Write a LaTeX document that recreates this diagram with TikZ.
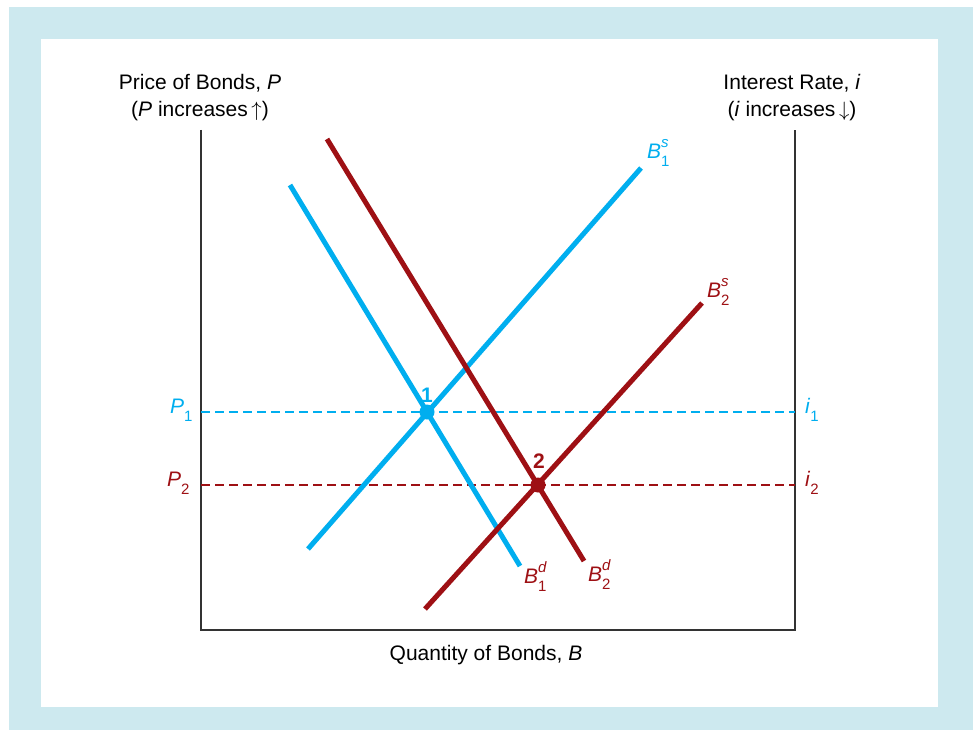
\documentclass[tikz,border=0pt]{standalone}
\usepackage{fontspec}
\setmainfont{Liberation Sans}
\definecolor{bgblue}{HTML}{CDE9EF}
\definecolor{cblue}{HTML}{00AEEF}
\definecolor{dred}{HTML}{9E1014}
\definecolor{axisgray}{HTML}{333333}
\newcommand\lblfont{\fontsize{21}{27}\selectfont}
\newcommand\smlfont{\fontsize{15}{18}\selectfont}
\newcommand\BSD[2]{\textit{B}\makebox[0pt][l]{\raisebox{0.5em}{\smlfont\textit{#1}}}\raisebox{-0.4em}{\smlfont #2}}
\newcommand\VSUB[2]{\textit{#1}\raisebox{-0.42em}{\smlfont #2}}
\tikzset{
  curve/.style={line width=5pt},
  axisline/.style={draw=axisgray, line width=1.6pt},
  guide/.style={line width=1.3pt, dash pattern=on 9pt off 5pt},
  lbl/.style={inner sep=0pt, font=\lblfont},
  eqdot/.style={circle, inner sep=0pt, minimum size=15pt},
}
\begin{document}
\begin{tikzpicture}[x=1pt,y=-1pt]
\useasboundingbox (0,0) rectangle (973,730);
\fill[bgblue] (9,7) rectangle (973,730);
\fill[white] (41,39) rectangle (938,707);

% axes
\coordinate (LT) at (201,130);
\coordinate (LB) at (201,630);
\coordinate (RB) at (795,630);
\coordinate (RT) at (795,130);
\draw[axisline] (LT) -- (LB) -- (RB) -- (RT);

% guide lines
\coordinate (g1l) at (201,412);
\coordinate (g1r) at (795,412);
\coordinate (g2l) at (201,485);
\coordinate (g2r) at (795,485);
\draw[guide, cblue] (g1l) -- (g1r);
\draw[guide, dred] (g2l) -- (g2r);

% curves
\coordinate (d1a) at (290,185);
\coordinate (d1b) at (520,566);
\coordinate (s1a) at (308,549);
\coordinate (s1b) at (641,168);
\coordinate (d2a) at (327,139);
\coordinate (d2b) at (584,561);
\coordinate (s2a) at (425,609);
\coordinate (s2b) at (702,303);
\draw[curve, cblue] (d1a) -- (d1b);
\draw[curve, cblue] (s1a) -- (s1b);
\draw[curve, dred] (d2a) -- (d2b);
\draw[curve, dred] (s2a) -- (s2b);

% equilibrium points
\node[eqdot, fill=cblue] (e1) at (427,412) {};
\node[eqdot, fill=dred] (e2) at (538,485) {};
\node[lbl, text=cblue, font=\lblfont\bfseries] (n1) at (427,395) {1};
\node[lbl, text=dred, font=\lblfont\bfseries] (n2) at (539,461) {2};

% curve labels
\node[lbl, anchor=base west, text=dred] (lb1d) at (524,583) {\BSD{d}{1}};
\node[lbl, anchor=base west, text=dred] (lb2d) at (588,581) {\BSD{d}{2}};
\node[lbl, anchor=base west, text=cblue] (lb1s) at (647,158) {\BSD{s}{1}};
\node[lbl, anchor=base west, text=dred] (lb2s) at (707,297) {\BSD{s}{2}};

% price / rate labels
\node[lbl, anchor=base west, text=cblue] (p1) at (170,413) {\VSUB{P}{1}};
\node[lbl, anchor=base west, text=dred] (p2) at (167,486) {\VSUB{P}{2}};
\node[lbl, anchor=base west, text=cblue] (i1) at (805,413) {\VSUB{i}{1}};
\node[lbl, anchor=base west, text=dred] (i2) at (805,486) {\VSUB{i}{2}};

% axis titles
\node[lbl, align=center, anchor=base] (ytl) at (200,117) {Price of Bonds, \textit{P}\\(\textit{P} increases\,$\uparrow$)};
\node[lbl, align=center, anchor=base] (ytr) at (792,117) {Interest Rate, \textit{i}\\(\textit{i} increases\,$\downarrow$)};
\node[lbl] (xt) at (486,655) {Quantity of Bonds, \textit{B}};
\end{tikzpicture}
\end{document}
